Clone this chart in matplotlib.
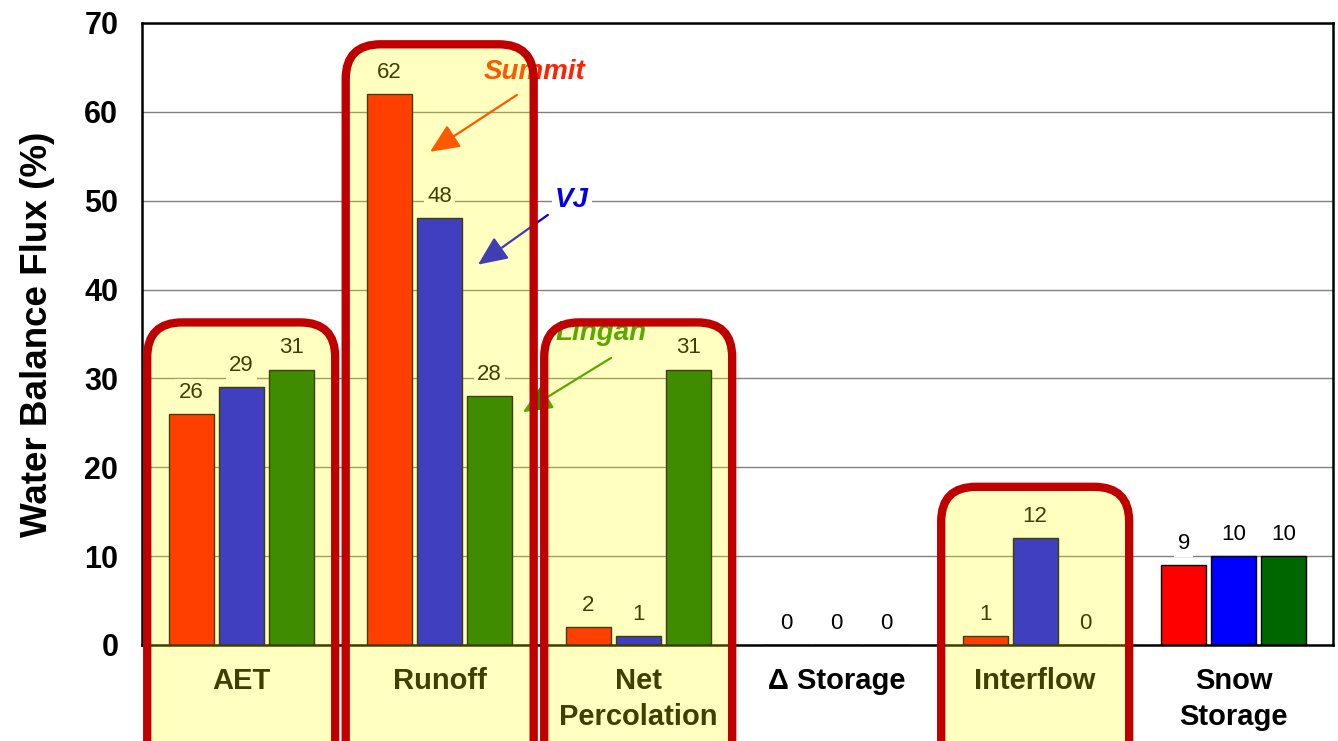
import numpy as np
import matplotlib
matplotlib.use("Agg")
import matplotlib.pyplot as plt
from matplotlib.patches import FancyBboxPatch

plt.rcParams['font.family'] = ['Liberation Sans', 'DejaVu Sans']

# === Data ===
categories = ["AET", "Runoff", "Net\nPercolation", "\u0394 Storage", "Interflow", "Snow\nStorage"]
summit = [26, 62, 2, 0, 1, 9]
vj = [29, 48, 1, 0, 12, 10]
lingan = [31, 28, 31, 0, 0, 10]
sites = ["Summit", "VJ", "Lingan"]
site_colors = ["#FF0000", "#0000FF", "#006600"]

# groups that get the highlight box, with box top (in %)
highlight = {0: 36.3, 1: 67.6, 2: 36.3, 4: 17.8}

# === Figure ===
fig = plt.figure(figsize=(13.38, 7.41), dpi=100)
ax = fig.add_axes([0.1061, 0.1296, 0.8901, 0.8394])

x = np.arange(len(categories)) + 0.5
offsets = [-0.252, 0.0, 0.252]
width = 0.227

for vals, off, col in zip([summit, vj, lingan], offsets, site_colors):
    bars = ax.bar(x + off, vals, width, color=col, edgecolor="black",
                  linewidth=1.0, zorder=2)
    for b, v in zip(bars, vals):
        ax.annotate(str(v), (b.get_x() + b.get_width() / 2, v),
                    xytext=(0, 15.5), textcoords="offset points",
                    ha="center", va="center", fontsize=16, color="black",
                    zorder=3,
                    bbox=dict(boxstyle="square,pad=0.15", fc="white", ec="none"))

ax.set_xlim(0, len(categories))
ax.set_ylim(0, 70)
ax.set_yticks(range(0, 71, 10))
ax.set_yticklabels([str(t) for t in range(0, 71, 10)], fontsize=22, fontweight="bold")
ax.set_xticks(x)
ax.set_xticklabels(categories, fontsize=21, fontweight="bold", linespacing=1.35)
ax.tick_params(axis="both", length=0)
ax.tick_params(axis="x", pad=16)
ax.tick_params(axis="y", pad=17)

ax.yaxis.grid(True, color="#808080", linewidth=1.0, zorder=0)
ax.set_axisbelow(True)
for s in ax.spines.values():
    s.set_linewidth(1.8)
    s.set_color("black")

ax.set_ylabel("Water Balance Flux (%)", fontsize=26.5, fontweight="bold", labelpad=21)

# === Site call-outs ===
callouts = [
    ("Summit", "#FF2200", (1.98, 64.5), (1.889, 61.9), (1.451, 55.5)),
    ("VJ", "#0000EE", (2.166, 50.1), (2.045, 48.4), (1.693, 42.8)),
    ("Lingan", "#228B00", (2.312, 35.1), (2.363, 32.3), (1.919, 26.2)),
]
for name, col, txt_xy, tail, head in callouts:
    ax.text(*txt_xy, name, color=col, fontsize=20, fontweight="bold",
            fontstyle="italic", ha="center", va="center", zorder=3,
            bbox=dict(boxstyle="square,pad=0.1", fc="white", ec="none"))
    ax.annotate("", xy=head, xytext=tail, zorder=3,
                arrowprops=dict(arrowstyle="-|>,head_length=0.9,head_width=0.4",
                                mutation_scale=20, color=col, lw=1.6,
                                shrinkA=0, shrinkB=0))

# === Highlight boxes ===
aspect = 3.9 / 0.176
box_w = 0.947
for i, top in highlight.items():
    bottom = -16
    box = FancyBboxPatch((x[i] - box_w / 2, bottom), box_w, top - bottom,
                         boxstyle="round,pad=0,rounding_size=0.176",
                         mutation_aspect=aspect,
                         facecolor=(1.0, 1.0, 0.0, 0.25),
                         edgecolor="#C00000", linewidth=6.0,
                         clip_on=False, zorder=5)
    ax.add_patch(box)

fig.savefig("out.png", dpi=100)
